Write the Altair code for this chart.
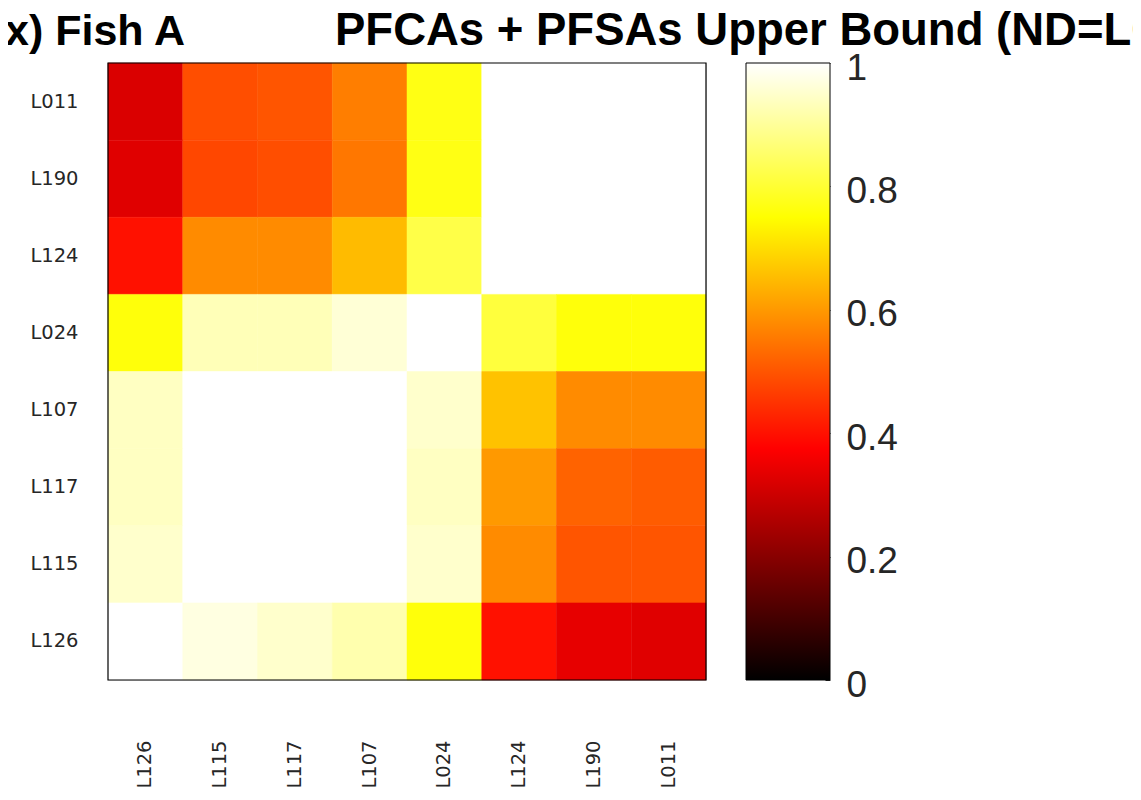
import altair as alt
import pandas as pd

rows = ["L011", "L190", "L124", "L024", "L107", "L117", "L115", "L126"]
cols = ["L126", "L115", "L117", "L107", "L024", "L124", "L190", "L011"]

r_L011 = [0.32, 0.49, 0.50, 0.56, 0.77, 1.00, 1.00, 1.00]
r_L190 = [0.33, 0.48, 0.49, 0.55, 0.77, 1.00, 1.00, 1.00]
r_L124 = [0.40, 0.58, 0.58, 0.65, 0.82, 1.00, 1.00, 1.00]
r_L024 = [0.76, 0.93, 0.93, 0.96, 1.00, 0.81, 0.76, 0.76]
r_L107 = [0.94, 1.00, 1.00, 1.00, 0.95, 0.66, 0.58, 0.58]
r_L117 = [0.94, 1.00, 1.00, 1.00, 0.94, 0.60, 0.52, 0.51]
r_L115 = [0.95, 1.00, 1.00, 1.00, 0.95, 0.58, 0.50, 0.50]
r_L126 = [1.00, 0.97, 0.95, 0.92, 0.76, 0.40, 0.34, 0.33]
matrix = [r_L011, r_L190, r_L124, r_L024, r_L107, r_L117, r_L115, r_L126]

colorbar_ticks = [0, 0.2, 0.4, 0.6, 0.8, 1]
colorbar_range = [0, 1]
panel_label = "x) Fish A"
main_title = "PFCAs + PFSAs Upper Bound (ND=LOD)"

# MATLAB "hot" colormap stops
hot_stops = [0.0, 0.125, 0.25, 0.375, 0.5, 0.625, 0.75, 0.875, 1.0]
hot_colors = ["#000000", "#550000", "#aa0000", "#ff0000", "#ff5500",
              "#ffaa00", "#ffff00", "#ffff80", "#ffffff"]

records = []
for ri, rname in enumerate(rows):
    for ci, cname in enumerate(cols):
        records.append({"row": rname, "col": cname, "value": matrix[ri][ci]})
df = pd.DataFrame(records)

hot = alt.Scale(type="linear", domain=hot_stops, range=hot_colors,
                interpolate="rgb", nice=False, zero=False, clamp=True)

label_style = dict(labelFont="DejaVu Sans", labelFontSize=19.5, labelColor="#262626")

heat = alt.Chart(df).mark_rect(strokeWidth=0.5).encode(
    x=alt.X("col:N", sort=cols, title=None,
            axis=alt.Axis(labelAngle=-90, labelPadding=60, ticks=False, domain=False,
                          **label_style)),
    y=alt.Y("row:N", sort=rows, title=None,
            axis=alt.Axis(orient="left", labelPadding=30, ticks=False, domain=False,
                          **label_style)),
    color=alt.Color("value:Q", scale=hot, legend=None),
    stroke=alt.Stroke("value:Q", scale=hot, legend=None),
)

frame = alt.Chart(pd.DataFrame({"f": [1]})).mark_rect(
    filled=False, stroke="#000000", strokeWidth=1.2
).encode(x=alt.value(0), x2=alt.value(598), y=alt.value(0), y2=alt.value(617))

grad = alt.LinearGradient(
    gradient="linear",
    stops=[alt.GradientStop(offset=o, color=c) for o, c in zip(hot_stops, hot_colors)],
    x1=0, x2=0, y1=1, y2=0,
)

colorbar = alt.Chart(pd.DataFrame({"lo": [colorbar_range[0]], "hi": [colorbar_range[1]]})).mark_rect(
    fill=grad, stroke="#000000", strokeWidth=1
).encode(
    x=alt.value(638), x2=alt.value(722),
    y=alt.Y("lo:Q", scale=alt.Scale(domain=colorbar_range, nice=False, zero=False),
            title=None,
            axis=alt.Axis(orient="right", offset=119, values=colorbar_ticks, format="~g",
                          grid=False, domain=False, ticks=True, tickSize=5,
                          tickColor="#262626", tickWidth=1, labelPadding=16,
                          labelOffset=5,
                          labelFont="Liberation Sans", labelFontSize=37,
                          labelColor="#262626", labelOverlap=False, labelBound=False,
                          labelFlush=False)),
    y2="hi:Q",
)

t1 = alt.Chart(pd.DataFrame({"t": [panel_label]})).mark_text(
    font="Liberation Sans", fontWeight="bold", fontSize=43, align="right",
    baseline="alphabetic", color="#000000"
).encode(text="t:N", x=alt.value(77), y=alt.value(-18))

t2 = alt.Chart(pd.DataFrame({"t": [main_title]})).mark_text(
    font="Liberation Sans", fontWeight="bold", fontSize=45.5, align="left",
    baseline="alphabetic", color="#000000"
).encode(text="t:N", x=alt.value(227), y=alt.value(-18))

chart = alt.layer(heat, frame, colorbar, t1, t2).resolve_scale(
    y="independent"
).resolve_axis(y="independent").properties(
    width=598, height=617,
    autosize=alt.AutoSizeParams(type="none"),
    padding={"left": 100, "top": 55, "right": 427, "bottom": 112},
).configure_view(stroke="#000000", strokeWidth=1).configure(background="#ffffff")

chart.save("out.html", embed_options={"renderer": "svg", "actions": False})
